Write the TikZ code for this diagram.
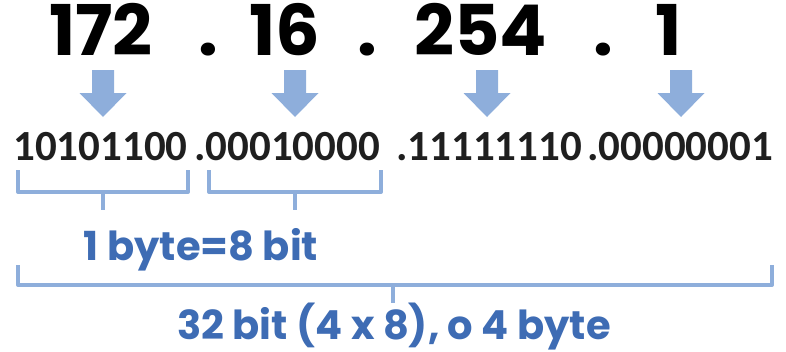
\documentclass[tikz,border=0pt]{standalone}
\usepackage{fontspec}
\setmainfont{Poppins}
\newfontfamily\binfont{Carlito}
\definecolor{arrowblue}{HTML}{8EAEDB}
\definecolor{textblue}{HTML}{3E6CB4}
\begin{document}
\begin{tikzpicture}[x=1pt,y=-1pt,
  bignum/.style={inner sep=0pt, font=\fontsize{70}{70}\selectfont\bfseries, text=black},
  binnum/.style={inner sep=0pt, anchor=base west, font=\binfont\bfseries\fontsize{43}{43}\selectfont, text=black!88},
  bluetxt/.style={inner sep=0pt, anchor=base, font=\fontsize{40}{40}\selectfont\bfseries, text=textblue},
  bracketline/.style={draw=arrowblue, line width=4pt, line join=round},
  blockarrow/.style={fill=arrowblue}]
\useasboundingbox (0,0) rectangle (786,351);
% top numbers
\node[bignum, anchor=base west] (n172) at (49,55) {172};
\node[bignum, anchor=base] (d1) at (208,55) {.};
\node[bignum, anchor=base west] (n16) at (249,55) {16};
\node[bignum, anchor=base] (d2) at (367,55) {.};
\node[bignum, anchor=base west] (n254) at (414,55) {254};
\node[bignum, anchor=base] (d3) at (603,55) {.};
\node[bignum, anchor=base west] (n1) at (655,55) {1};
% binary
\node[binnum] (b1) at (13,160) {10101100};
\node[binnum] (b2) at (194,160) {.00010000};
\node[binnum] (b3) at (396,160) {.11111110};
\node[binnum] (b4) at (587,160) {.00000001};
% arrows
\foreach \cx/\nm in {103/a1,295/a2,487/a3,681/a4}{
  \coordinate (\nm) at (\cx,70);
  \fill[blockarrow] (\cx-11,70) -- (\cx-11,93) -- (\cx-23.5,93) -- (\cx,117)
     -- (\cx+23.5,93) -- (\cx+11,93) -- (\cx+11,70) -- cycle;
}
% small brackets
\coordinate (s1a) at (18,170); \coordinate (s1b) at (18,192);
\coordinate (s1c) at (188,192); \coordinate (s1d) at (188,170);
\coordinate (s1t) at (103,192); \coordinate (s1u) at (103,210);
\draw[bracketline] (s1a) -- (s1b) -- (s1c) -- (s1d);
\draw[bracketline] (s1t) -- (s1u);
\coordinate (s2a) at (209,170); \coordinate (s2b) at (209,192);
\coordinate (s2c) at (381,192); \coordinate (s2d) at (381,170);
\coordinate (s2t) at (295,192); \coordinate (s2u) at (295,210);
\draw[bracketline] (s2a) -- (s2b) -- (s2c) -- (s2d);
\draw[bracketline] (s2t) -- (s2u);
\node[bluetxt] (t1) at (201,260) {1 byte=8 bit};
% big bracket
\coordinate (ba) at (18,265); \coordinate (bb) at (18,285);
\coordinate (bc) at (772,285); \coordinate (bd) at (772,265);
\coordinate (bt) at (393,285); \coordinate (bu) at (393,303);
\draw[bracketline] (ba) -- (bb) -- (bc) -- (bd);
\draw[bracketline] (bt) -- (bu);
\node[bluetxt] (t2) at (394,339) {32 bit (4 x 8), o 4 byte};
\end{tikzpicture}
\end{document}
